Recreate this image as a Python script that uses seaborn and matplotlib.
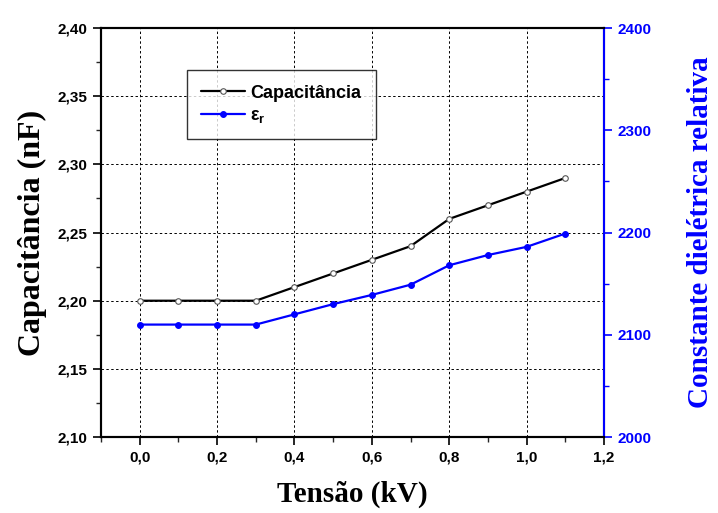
import matplotlib
matplotlib.use("Agg")
import matplotlib.pyplot as plt
import seaborn as sns
import pandas as pd
from matplotlib.ticker import MultipleLocator, FuncFormatter

tensao = [0.0, 0.1, 0.2, 0.3, 0.4, 0.5, 0.6, 0.7, 0.8, 0.9, 1.0, 1.1]
capacitancia = [2.20, 2.20, 2.20, 2.20, 2.21, 2.22, 2.23, 2.24, 2.26, 2.27, 2.28, 2.29]
epsilon_r = [2110, 2110, 2110, 2110, 2120, 2130, 2139, 2149, 2168, 2178, 2186, 2199]

df = pd.DataFrame({"Tensão": tensao, "C": capacitancia, "er": epsilon_r})

sns.set_theme(style="white")
plt.rcParams['font.family'] = ['Liberation Sans', 'DejaVu Sans']
plt.rcParams['text.color'] = 'black'
plt.rcParams['axes.labelcolor'] = 'black'

fig = plt.figure(figsize=(7.18, 5.13), dpi=100)
ax = fig.add_axes([0.1407, 0.148, 0.7005, 0.7974])
ax2 = ax.twinx()

sns.lineplot(data=df, x="Tensão", y="C", ax=ax, color="black", lw=1.6,
             marker="o", markersize=4, markerfacecolor="white",
             markeredgecolor="#555555", markeredgewidth=0.8, label="Capacitância", legend=False)
sns.lineplot(data=df, x="Tensão", y="er", ax=ax2, color="blue", lw=1.6,
             marker="o", markersize=4.2, markerfacecolor="blue",
             markeredgecolor="blue", label="ε$_\\mathregular{r}$", legend=False)

ax.set_xlim(-0.1, 1.2)
ax.set_ylim(2.10, 2.40)
ax2.set_ylim(2000, 2400)

ax.xaxis.set_major_locator(MultipleLocator(0.2))
ax.xaxis.set_minor_locator(MultipleLocator(0.1))
ax.yaxis.set_major_locator(MultipleLocator(0.05))
ax.yaxis.set_minor_locator(MultipleLocator(0.025))
ax2.yaxis.set_major_locator(MultipleLocator(100))
ax2.yaxis.set_minor_locator(MultipleLocator(50))

ax.xaxis.set_major_formatter(FuncFormatter(lambda v, p: f"{v:.1f}".replace(".", ",")))
ax.yaxis.set_major_formatter(FuncFormatter(lambda v, p: f"{v:.2f}".replace(".", ",")))
ax2.yaxis.set_major_formatter(FuncFormatter(lambda v, p: f"{v:.0f}"))

ax.grid(True, which="major", color="black", linestyle=(0, (2.5, 2.5)), linewidth=0.7)
ax2.grid(False)

for a in (ax, ax2):
    for s in a.spines.values():
        s.set_color("black")
        s.set_linewidth(1.5)
ax2.spines["right"].set_color("blue")

ax.tick_params(axis="both", which="major", direction="out", length=6, width=1.2,
               labelsize=11, colors="black", bottom=True, left=True)
ax.tick_params(axis="both", which="minor", direction="out", length=3.5, width=1.0,
               bottom=True, left=True)
ax2.tick_params(axis="y", which="major", direction="out", length=6, width=1.2,
                labelsize=11, colors="blue", right=True)
ax2.tick_params(axis="y", which="minor", direction="out", length=3.5, width=1.0,
                colors="blue", right=True)
for lab in ax.get_xticklabels() + ax.get_yticklabels() + ax2.get_yticklabels():
    lab.set_fontweight("bold")

ax.set_xlabel("Tensão (kV)", fontsize=21, fontweight="bold", family="Liberation Serif", labelpad=12)
ax.set_ylabel("Capacitância (nF)", fontsize=23, fontweight="bold", family="Liberation Serif", labelpad=8)
ax2.set_ylabel("Constante dielétrica relativa", fontsize=21, fontweight="bold",
               family="Liberation Serif", color="blue", labelpad=26)

h1, l1 = ax.get_legend_handles_labels()
h2, l2 = ax2.get_legend_handles_labels()
leg = ax2.legend(h1 + h2, l1 + l2, loc="upper left", bbox_to_anchor=(0.171, 0.897),
                 borderaxespad=0, frameon=True, fancybox=False, edgecolor="black",
                 prop={"weight": "bold", "size": 13}, handlelength=2.4, handletextpad=0.3,
                 borderpad=0.8, labelspacing=0.3)
leg.get_frame().set_linewidth(1.0)

fig.savefig("out.png", dpi=100)
